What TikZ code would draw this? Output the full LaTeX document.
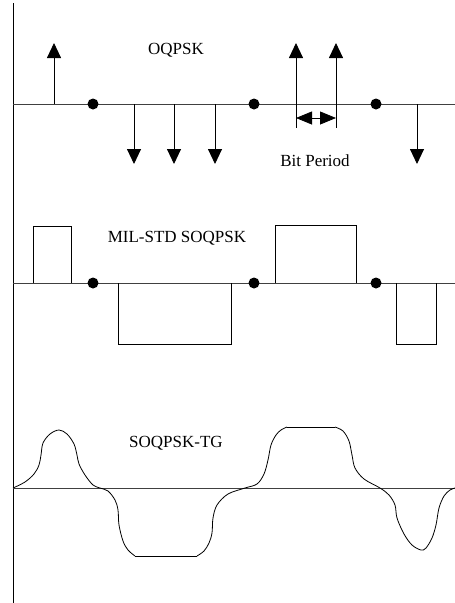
\documentclass[tikz,border=0pt]{standalone}
\usepackage{fontspec}
\setmainfont{Liberation Serif}
\usetikzlibrary{arrows.meta}
\begin{document}
\begin{tikzpicture}[x=1pt,y=-1pt,
  axis/.style={line width=0.9pt,draw=black!75},
  dotnode/.style={circle,fill=black,inner sep=0pt,minimum size=11pt},
  imp/.style={line width=0.9pt,-{Triangle[length=15pt,width=14pt]}},
  wave/.style={line width=0.8pt},
  lbl/.style={font=\fontsize{17}{20}\selectfont,inner sep=0pt}]
\useasboundingbox (0,0) rectangle (455,603);
% vertical line
\coordinate (vt) at (13,3);
\coordinate (vb) at (13,603);
\draw[line width=1pt] (vt) -- (vb);
% ---------- OQPSK ----------
\coordinate (a0) at (13,104);
\coordinate (a1) at (455,104);
\draw[axis] (a0) -- (a1);
\node[lbl] (t1) at (176,50) {OQPSK};
\foreach \x [count=\i] in {54,296,336}{
  \coordinate (u\i b) at (\x,104);
  \coordinate (u\i t) at (\x,43);
  \draw[imp] (u\i b) -- (u\i t);
}
\foreach \x [count=\i] in {134,174,215,417}{
  \coordinate (d\i b) at (\x,104);
  \coordinate (d\i t) at (\x,164);
  \draw[imp] (d\i b) -- (d\i t);
}
\foreach \x [count=\i] in {93,254,376}{
  \node[dotnode] (p\i) at (\x,104) {};
}
\coordinate (bp1) at (296,128);
\coordinate (bp2) at (336,128);
\draw[line width=0.9pt] (u2b) -- (bp1);
\draw[line width=0.9pt] (u3b) -- (bp2);
\coordinate (ba) at (296,118);
\coordinate (bb) at (336,118);
\draw[line width=0.8pt,{Triangle[length=16pt,width=13pt]}-{Triangle[length=16pt,width=13pt]}] (ba) -- (bb);
\node[lbl] (t2) at (315,161) {Bit Period};
% ---------- MIL-STD SOQPSK ----------
\coordinate (m0) at (13,283);
\coordinate (m1) at (455,283);
\draw[axis] (m0) -- (m1);
\node[lbl] (t3) at (177,238) {MIL-STD SOQPSK};
\draw[wave] (33,283) -- (33,226) -- (71,226) -- (71,283);
\draw[wave] (118,283) -- (118,344) -- (231,344) -- (231,283);
\draw[wave] (275,283) -- (275,225) -- (356,225) -- (356,283);
\draw[wave] (396,283) -- (396,344) -- (436,344) -- (436,283);
\foreach \x [count=\i] in {93,254,376}{
  \node[dotnode] (q\i) at (\x,283) {};
}
% ---------- SOQPSK-TG ----------
\coordinate (g0) at (13,488);
\coordinate (g1) at (455,488);
\draw[axis] (g0) -- (g1);
\node[lbl] (t4) at (176,443) {SOQPSK-TG};
\draw[wave] plot[smooth,tension=0.55] coordinates {
 (13,488) (25,482) (34,474) (39,465) (41,455) (43,443) (50,434) (59,430) (67,434) (74,444) (77,455) (79,464) (85,475) (93,485) (100,488)
 (108,491) (115,500) (118,510) (119,525) (123,541) (128,550) (135,556)};
\draw[wave] (135,556) -- (197,556);
\draw[wave] plot[smooth,tension=0.55] coordinates {
 (197,556) (204,551) (209,543) (212,533) (213,518) (217,505) (228,494) (245,488)
 (257,484) (264,474) (268,460) (271,445) (276,435) (281,430) (287,427)};
\draw[wave] (287,427) -- (335,427);
\draw[wave] plot[smooth,tension=0.55] coordinates {
 (335,427) (343,431) (349,441) (352,455) (355,468) (364,479) (380,488)
 (389,495) (395,505) (397,518) (404,534) (412,545) (421,550) (426,548) (432,538) (436,525) (439,508) (444,496) (450,490) (455,488)};
\end{tikzpicture}
\end{document}
